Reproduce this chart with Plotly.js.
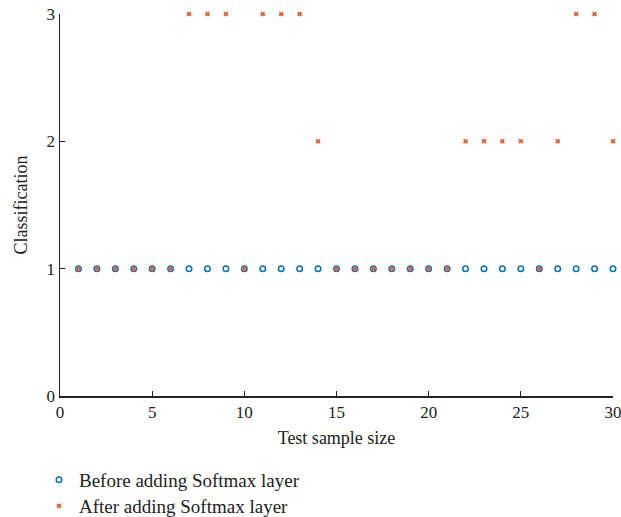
<!DOCTYPE html>
<html>
<head>
<meta charset="utf-8">
<script src="https://cdn.plot.ly/plotly-3.0.1.min.js"></script>
<style>html,body{margin:0;padding:0;background:#fff;}#chart{width:621px;height:517px;}</style>
</head>
<body>
<div id="chart"></div>
<script>
const samples = [1,2,3,4,5,6,7,8,9,10,11,12,13,14,15,16,17,18,19,20,21,22,23,24,25,26,27,28,29,30];
const beforeVals = [1,1,1,1,1,1,1,1,1,1,1,1,1,1,1,1,1,1,1,1,1,1,1,1,1,1,1,1,1,1];
const afterVals = [1,1,1,1,1,1,3,3,3,1,3,3,3,2,1,1,1,1,1,1,1,2,2,2,2,1,2,3,3,2];
const xTicks = [0,5,10,15,20,25,30];
const yTicks = [0,1,2,3];
const seriesNames = ["Before adding Softmax layer", "After adding Softmax layer"];

const font = "Liberation Serif, Times New Roman, serif";
const ink = '#222';
const traces = [
  {x: samples, y: beforeVals, name: seriesNames[0], type: 'scatter', mode: 'markers', legend: 'legend',
   marker: {symbol: 'circle-open', size: 5.5, color: '#0072BD', line: {width: 1.5, color: '#0072BD'}}, cliponaxis: false},
  {x: samples, y: afterVals, name: seriesNames[1], type: 'scatter', mode: 'markers', legend: 'legend2',
   marker: {symbol: 'x', size: 4.5, color: '#E8582A', line: {width: 0}}, cliponaxis: false}
];
const legendBase = {xref: 'paper', x: -0.038, xanchor: 'left', yref: 'container', yanchor: 'middle',
  font: {family: font, size: 19, color: ink}, bgcolor: 'rgba(0,0,0,0)', borderwidth: 0};
const layout = {
  width: 621, height: 517,
  margin: {l: 60, r: 8, t: 14, b: 121, autoexpand: false},
  paper_bgcolor: '#fff', plot_bgcolor: '#fff',
  font: {family: font, color: ink, size: 18},
  showlegend: true,
  legend: Object.assign({}, legendBase, {y: 1 - 480/517}),
  legend2: Object.assign({}, legendBase, {y: 1 - 506/517}),
  xaxis: {range: [0, 30], tickvals: xTicks, ticktext: xTicks.map(String), ticks: 'inside', ticklen: 5,
          tickcolor: ink, tickwidth: 1.3, showline: true, linecolor: ink, linewidth: 1.5,
          showgrid: false, zeroline: false, ticklabeloverflow: 'allow',
          tickfont: {family: font, size: 17, color: ink},
          title: {text: 'Test sample size', font: {family: font, size: 18, color: ink}, standoff: 10}},
  yaxis: {range: [0, 3], tickvals: yTicks, ticktext: yTicks.map(String), ticks: 'inside', ticklen: 5,
          tickcolor: ink, tickwidth: 1.3, showline: true, linecolor: ink, linewidth: 1.5,
          showgrid: false, zeroline: false, tickfont: {family: font, size: 17, color: ink},
          title: {text: 'Classification', font: {family: font, size: 18, color: ink}, standoff: 14}}
};
Plotly.newPlot('chart', traces, layout, {displayModeBar: false, staticPlot: true});
</script>
</body>
</html>
